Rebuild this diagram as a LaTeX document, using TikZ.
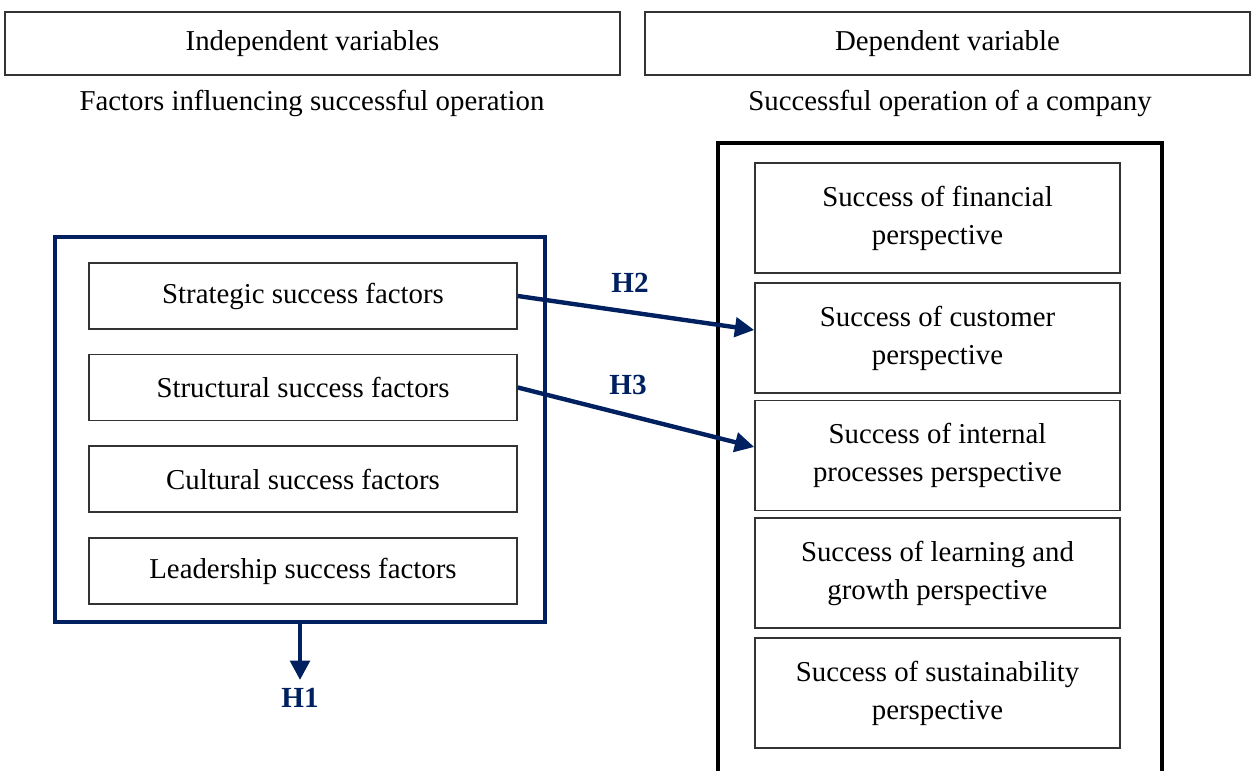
\documentclass[tikz,border=0pt]{standalone}
\usepackage{fontspec}
\setmainfont{Liberation Serif}
\usetikzlibrary{arrows.meta,positioning}
\definecolor{navy}{RGB}{0,32,96}

\begin{document}
\begin{tikzpicture}%
    [>={Triangle[length=11pt,width=11pt]},
    font=\fontsize{16.4}{21.6}\selectfont,
    head/.style={draw=black!80, line width=0.8pt, minimum height=1.26cm},
    item/.style={draw=black!80, line width=0.9pt, minimum width=8.56cm, minimum height=1.32cm},
    persp/.style={draw=black!80, line width=0.9pt, minimum width=7.3cm, minimum height=2.2cm, align=center},
    hyp/.style={text=navy, font=\fontsize{16.6}{18}\selectfont\bfseries},
    link/.style={->, draw=navy, line width=2.5pt}
    ]
    \useasboundingbox (0,0) rectangle (25.08,-15.42);

    \node[head, minimum width=12.3cm] (indep) at (6.25,-0.87)  {Independent variables};
    \node[head, minimum width=12.1cm] (dep)   at (18.95,-0.87) {Dependent variable};
    \node (factors) at (6.24,-2.06) {Factors influencing successful operation};
    \node (success) at (19.0,-2.06) {Successful operation of a company};

    % left group
    \node[draw=navy, line width=2.3pt, minimum width=9.8cm, minimum height=7.7cm] (group) at (6.0,-8.59) {};
    \node[item] (strat)  at (6.06,-5.92)  {Strategic success factors};
    \node[item] (struct) at (6.06,-7.75)  {Structural success factors};
    \node[item] (cult)   at (6.06,-9.58)  {Cultural success factors};
    \node[item] (lead)   at (6.06,-11.42) {Leadership success factors};

    % right group (its bottom edge runs off the page)
    \node[draw=black, line width=2.8pt, minimum width=8.88cm, minimum height=12.64cm] (company) at (18.8,-9.18) {};
    \node[persp] (fin)   at (18.75,-4.36)  {Success of financial\\perspective};
    \node[persp] (cust)  at (18.75,-6.76)  {Success of customer\\perspective};
    \node[persp] (proc)  at (18.75,-9.11)  {Success of internal\\processes perspective};
    \node[persp] (learn) at (18.75,-11.46) {Success of learning and\\growth perspective};
    \node[persp] (sust)  at (18.75,-13.86) {Success of sustainability\\perspective};

    \node[hyp] (h2) at (12.6,-5.66)  {H2};
    \node[hyp] (h3) at (12.56,-7.7)  {H3};
    \node[hyp] (h1) at (6.0,-13.96)  {H1};
    \coordinate (h1end) at (6.0,-13.6);

    % FROM to TO
    \draw[link] (strat.east)  -- ([yshift=0.16cm]cust.west);
    \draw[link] (struct.east) -- ([yshift=0.17cm]proc.west);
    \draw[link] (group.south) -- (h1end);
\end{tikzpicture}
\end{document}
